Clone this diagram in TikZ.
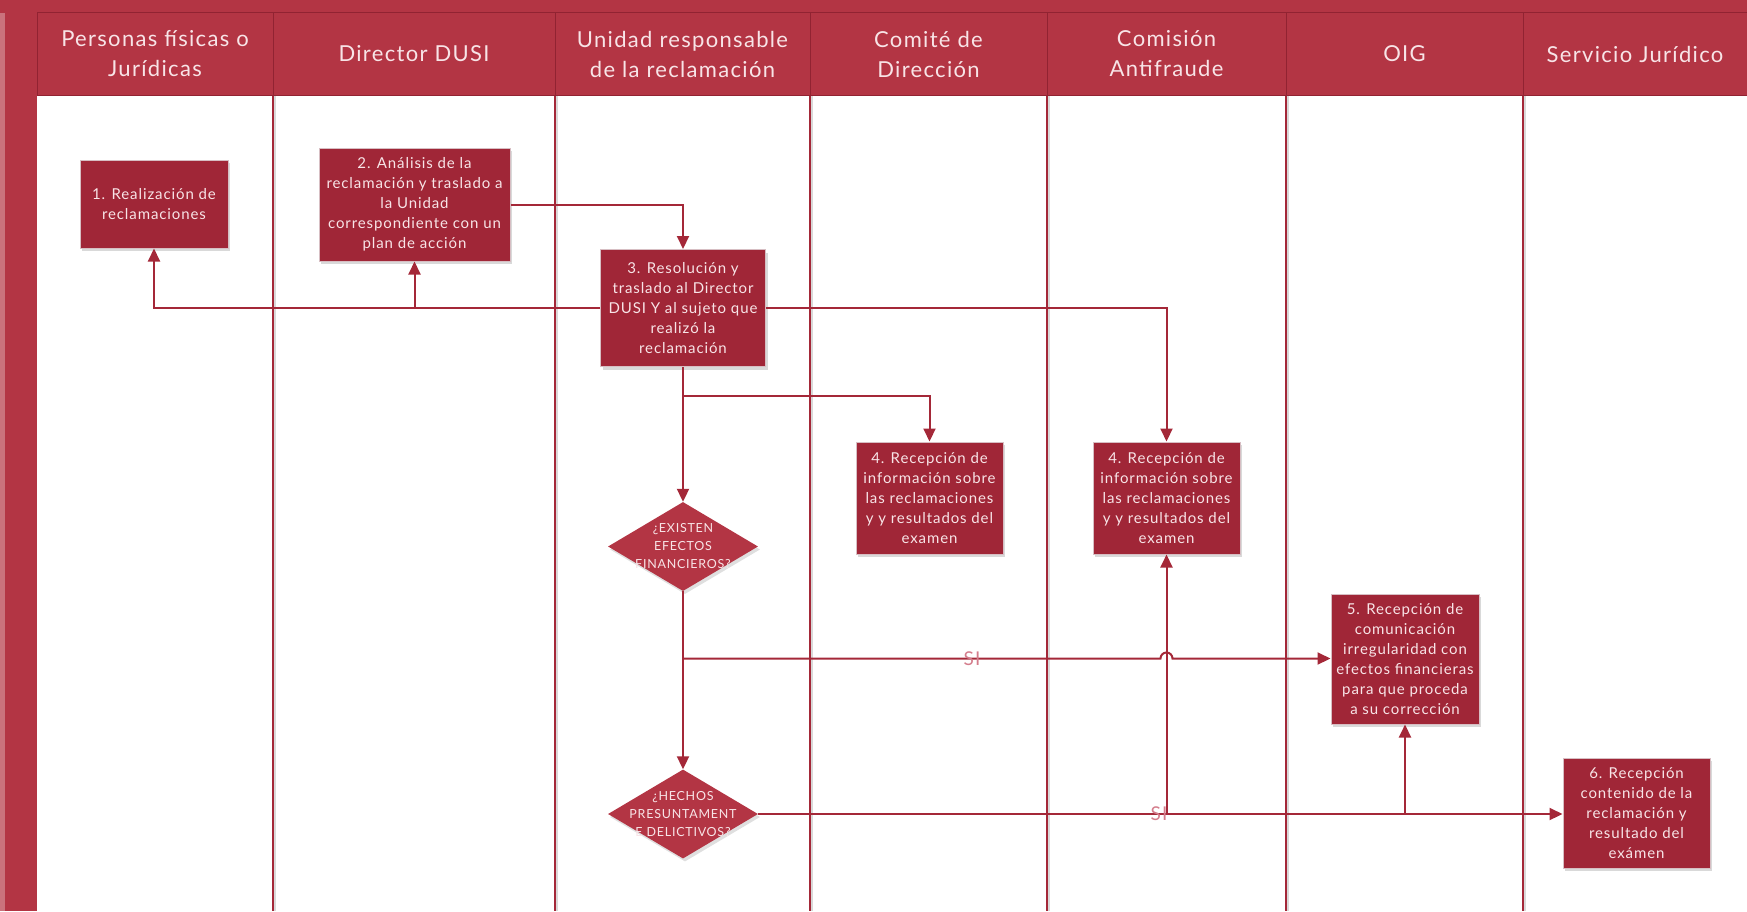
\documentclass[tikz,border=0pt]{standalone}
\usepackage{fontspec}
\setmainfont{Lato}[LetterSpace=6]
\newfontfamily\askfont[LetterSpace=6]{Lato}
\usetikzlibrary{shapes.geometric, arrows.meta, calc, shadows}

\definecolor{headred}{RGB}{179,53,68}
\definecolor{headedge}{RGB}{145,35,50}
\definecolor{boxred}{RGB}{160,38,55}
\definecolor{boxedge}{RGB}{215,190,195}
\definecolor{laneline}{RGB}{164,40,56}
\definecolor{paletext}{RGB}{248,228,231}
\definecolor{silabel}{RGB}{212,125,140}

\tikzset{
    lane/.style = {draw=laneline, line width=2pt},
    lanehead/.style = {rectangle, fill=headred, draw=headedge, line width=1pt, text=paletext,
        font=\fontsize{22}{30}\selectfont, align=center, inner sep=0pt, minimum height=83pt},
    stepbox/.style = {rectangle, fill=boxred, draw=boxedge, line width=1pt, text=paletext,
        font=\fontsize{15}{20}\selectfont, align=center, inner sep=0pt,
        drop shadow={opacity=0.3, shadow xshift=2pt, shadow yshift=-3pt}},
    askbox/.style = {diamond, fill=headred, inner sep=0pt, minimum width=150pt, minimum height=89pt,
        drop shadow={opacity=0.25, shadow xshift=2pt, shadow yshift=-3pt}},
    asktext/.style = {text=paletext, font=\askfont\fontsize{12.5}{18}\selectfont, align=center},
    flow/.style = {draw=laneline, line width=2pt, -{Triangle[length=13pt, width=12pt]}},
    yes/.style = {text=silabel, font=\fontsize{19}{19}\selectfont, inner sep=0pt}
}

\begin{document}
\begin{tikzpicture}[x=1pt, y=-1pt]
    \useasboundingbox (0,0) rectangle (1747,911);
    % frame
    \fill[headred] (0,0) rectangle (1747,13);
    \fill[headred] (0,0) rectangle (37,911);
    \fill[headred!70!white] (0,13) rectangle (5,911);

    % lanes
    \foreach \xa/\xb/\lname/\ltext in {37/273/pers/{Personas físicas o\\Jurídicas},
        273/555/dir/{Director DUSI}, 555/810/uni/{Unidad responsable\\de la reclamación},
        810/1047/com/{Comité de\\Dirección}, 1047/1286/anti/{Comisión\\Antifraude},
        1286/1523/oig/{OIG}, 1523/1747/jur/{Servicio Jurídico}}{
        \node[lanehead, minimum width=\xb-\xa] (\lname) at ({(\xa+\xb)/2},54) {\ltext};
    }
    \foreach \x in {273, 555, 810, 1047, 1286, 1523}{
        \draw[black!15, line width=2pt] (\x+2,96) -- (\x+2,911);
        \draw[lane] (\x,96) -- (\x,911);
    }

    % steps
    \node[stepbox, minimum width=148pt, minimum height=88pt] (s1) at (154,204)
        {1. Realización de\\reclamaciones};
    \node[stepbox, minimum width=191pt, minimum height=113pt] (s2) at (414.5,204.5)
        {2. Análisis de la\\reclamación y traslado a\\la Unidad\\correspondiente con un\\plan de acción};
    \node[stepbox, minimum width=165pt, minimum height=117pt] (s3) at (683,308)
        {3. Resolución y\\traslado al Director\\DUSI Y al sujeto que\\realizó la\\reclamación};
    \node[stepbox, minimum width=147pt, minimum height=112pt] (s4c) at (929.5,498)
        {4. Recepción de\\información sobre\\las reclamaciones\\y y resultados del\\examen};
    \node[stepbox, minimum width=147pt, minimum height=112pt] (s4a) at (1166.5,498)
        {4. Recepción de\\información sobre\\las reclamaciones\\y y resultados del\\examen};
    \node[stepbox, minimum width=148pt, minimum height=130pt] (s5) at (1405,659)
        {5. Recepción de\\comunicación\\irregularidad con\\efectos financieras\\para que proceda\\a su corrección};
    \node[stepbox, minimum width=147pt, minimum height=110pt] (s6) at (1636.5,813)
        {6. Recepción\\contenido de la\\reclamación y\\resultado del\\exámen};
    \node[askbox, label={[asktext]center:{¿EXISTEN\\EFECTOS\\FINANCIEROS?}}] (q1) at (683,546.5) {};
    \node[askbox, label={[asktext]center:{¿HECHOS\\PRESUNTAMENT\\E DELICTIVOS?}}] (q2) at (683,814) {};

    \coordinate (split) at (683,396);
    \coordinate (yes1) at (683,658.5);

    % connectors
    \draw[flow] (s2.east) -| (s3.north);
    \draw[flow] (s3.west) -| (s1.south);
    \draw[flow] (s2.south |- s3.west) -- (s2.south);
    \draw[flow] (s3.east) -| (s4a.north);
    \draw[flow] (s3.south) -- (q1.north);
    \draw[flow] (split) -| (s4c.north);
    \draw[flow] (q1.south) -- (q2.north);
    \draw[flow] (yes1) -- ($(s4a.south |- yes1)+(-6,0)$) arc[start angle=180, end angle=360, radius=6]
        -- (s5.west |- yes1);
    \draw[flow] (q2.east) -- (s6.west |- q2.east);
    \draw[flow] (s4a.south |- q2.east) -- (s4a.south);
    \draw[flow] (s5.south |- q2.east) -- (s5.south);
    \node[yes] at (972,659) {SI};
    \node[yes] at (1159,814) {SI};
\end{tikzpicture}
\end{document}
